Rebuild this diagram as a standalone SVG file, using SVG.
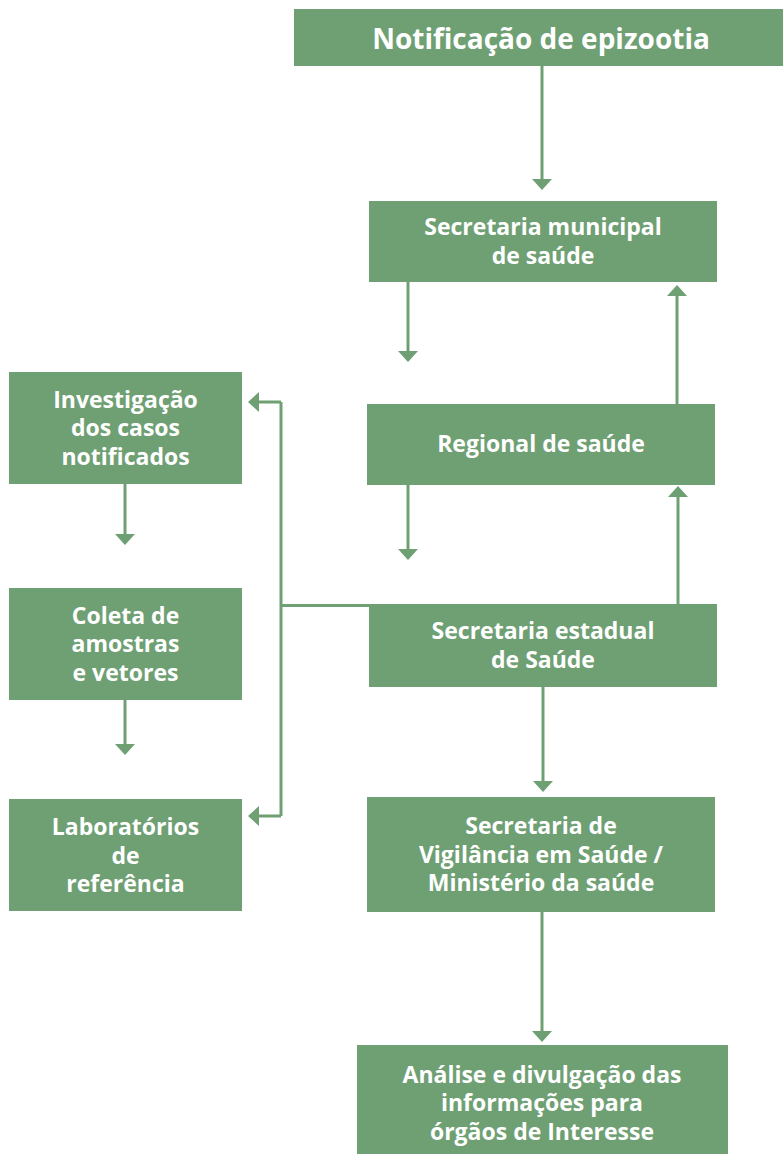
<svg xmlns="http://www.w3.org/2000/svg" width="783" height="1154" viewBox="0 0 783 1154">
<style>
.box{fill:#6fa074}
.t{font-family:"Open Sans","Liberation Sans",sans-serif;font-weight:bold;fill:#ffffff;font-size:23px;text-anchor:middle}
.title{font-size:28px}
.ln{stroke:#6fa074;stroke-width:3;fill:none}
.ah{fill:#6fa074}
</style>
<defs>
<path id="down" d="M-10,0 L10,0 L0,11 Z"/>
<path id="up" d="M-10,0 L10,0 L0,-11 Z"/>
<path id="left" d="M0,-10 L0,10 L-11,0 Z"/>
</defs>
<g id="n-notificacao"><rect class="box" x="294" y="9" width="489" height="57"/><text class="t title" x="541" y="49">Notificação de epizootia</text></g>
<g id="n-municipal"><rect class="box" x="369" y="201" width="348" height="81"/><text class="t" x="543" y="235">Secretaria municipal</text><text class="t" x="543" y="264">de saúde</text></g>
<g id="n-regional"><rect class="box" x="367" y="404" width="348" height="81"/><text class="t" x="541" y="452">Regional de saúde</text></g>
<g id="n-estadual"><rect class="box" x="369" y="604" width="348" height="83"/><text class="t" x="543" y="639">Secretaria estadual</text><text class="t" x="543" y="668">de Saúde</text></g>
<g id="n-vigilancia"><rect class="box" x="367" y="797" width="348" height="115"/><text class="t" x="541" y="834">Secretaria de</text><text class="t" x="541" y="863">Vigilância em Saúde /</text><text class="t" x="541" y="891">Ministério da saúde</text></g>
<g id="n-analise"><rect class="box" x="357" y="1045" width="371" height="109"/><text class="t" x="542" y="1083">Análise e divulgação das</text><text class="t" x="542" y="1111">informações para</text><text class="t" x="542" y="1140">órgãos de Interesse</text></g>
<g id="n-investigacao"><rect class="box" x="9" y="372" width="233" height="112"/><text class="t" x="125.5" y="408">Investigação</text><text class="t" x="125.5" y="436">dos casos</text><text class="t" x="125.5" y="465">notificados</text></g>
<g id="n-coleta"><rect class="box" x="9" y="588" width="233" height="112"/><text class="t" x="125.5" y="624">Coleta de</text><text class="t" x="125.5" y="652">amostras</text><text class="t" x="125.5" y="681">e vetores</text></g>
<g id="n-laboratorios"><rect class="box" x="9" y="799" width="233" height="112"/><text class="t" x="125.5" y="835">Laboratórios</text><text class="t" x="125.5" y="864">de</text><text class="t" x="125.5" y="892">referência</text></g>
<g id="connectors">
<path class="ln" d="M542,66 V180"/><use href="#down" class="ah" x="542" y="179"/>
<path class="ln" d="M408,282 V352"/><use href="#down" class="ah" x="408" y="351"/>
<path class="ln" d="M677,404 V296"/><use href="#up" class="ah" x="677" y="296"/>
<path class="ln" d="M408,485 V550"/><use href="#down" class="ah" x="408" y="549"/>
<path class="ln" d="M678,604 V497"/><use href="#up" class="ah" x="678" y="497"/>
<path class="ln" d="M369,605.5 H281 M281,402 V816 M259,402 H281 M259,816 H281"/>
<use href="#left" class="ah" x="259" y="402"/><use href="#left" class="ah" x="259" y="816"/>
<path class="ln" d="M125,484 V535"/><use href="#down" class="ah" x="125" y="534"/>
<path class="ln" d="M125,700 V745"/><use href="#down" class="ah" x="125" y="744"/>
<path class="ln" d="M543,687 V782"/><use href="#down" class="ah" x="543" y="781"/>
<path class="ln" d="M542,912 V1032"/><use href="#down" class="ah" x="542" y="1031"/>
</g>
</svg>
